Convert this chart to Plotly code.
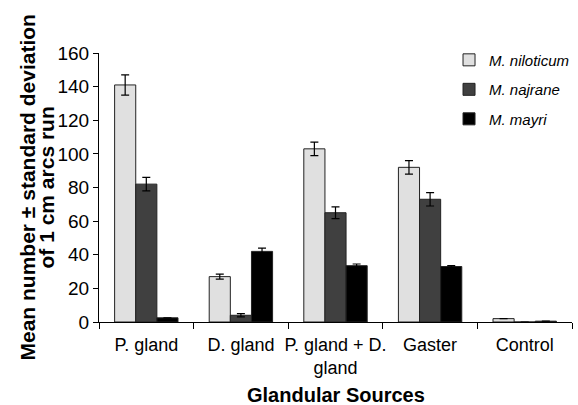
import plotly.graph_objects as go

categories = ["P. gland", "D. gland", "P. gland + D.<br>gland", "Gaster", "Control"]
series_names = ["M. niloticum", "M. najrane", "M. mayri"]
niloticum = [141, 27, 103, 92, 2]
niloticum_sd = [6, 1.5, 4, 4, 0]
najrane = [82, 4, 65, 73, 0]
najrane_sd = [4, 1, 3.5, 4, 0]
mayri = [2.5, 42, 33.5, 33, 0.5]
mayri_sd = [0, 2, 1, 0.5, 0]

colors = ["#e0e0e0", "#404040", "#000000"]
values = [niloticum, najrane, mayri]
sds = [niloticum_sd, najrane_sd, mayri_sd]

fig = go.Figure()
for i, (name, v, sd, c) in enumerate(zip(series_names, values, sds, colors)):
    fig.add_trace(go.Bar(
        x=categories, y=v, name="<i>" + name + "</i>", legendgroup="g%d" % i,
        marker=dict(color=c, line=dict(color="#222222", width=1)),
        error_y=dict(type="data", array=sd, visible=True, color="black", thickness=1.2, width=4),
    ))

FONT = "Liberation Sans, Arial, sans-serif"
fig.update_layout(
    width=578, height=405,
    margin=dict(l=99, r=6, t=53, b=83, autoexpand=False),
    paper_bgcolor="white", plot_bgcolor="white",
    barmode="group", bargap=0.33, bargroupgap=0,
    font=dict(family=FONT, color="black"),
    showlegend=True,
    legend=dict(
        x=0.74, y=1.035, xanchor="left", yanchor="top",
        font=dict(size=15, family=FONT),
        traceorder="grouped", tracegroupgap=7,
        itemwidth=30, bgcolor="rgba(0,0,0,0)",
    ),
)
fig.update_xaxes(
    showline=True, linecolor="black", linewidth=1,
    ticks="outside", tickson="boundaries", ticklen=6, tickcolor="black",
    tickfont=dict(size=18), tickangle=0, automargin=False, ticklabelstandoff=6,
)
fig.update_yaxes(
    range=[0, 160], dtick=20,
    showline=True, linecolor="black", linewidth=1,
    ticks="outside", ticklen=5, tickcolor="black",
    tickfont=dict(size=19), showgrid=False, zeroline=False, automargin=False,
)

fig.add_annotation(
    text="<b>Glandular Sources</b>", xref="paper", yref="paper",
    x=0.5, y=(322 - 395) / 269, xanchor="center", yanchor="middle",
    showarrow=False, font=dict(size=20, family=FONT),
)
fig.add_annotation(
    text="<b>Mean number ± standard deviation</b>", xref="paper", yref="paper",
    x=(27 - 99) / 473, y=0.5, xanchor="center", yanchor="middle", textangle=-90,
    showarrow=False, font=dict(size=21, family=FONT),
)
fig.add_annotation(
    text="<b>of 1 cm arcs run</b>", xref="paper", yref="paper",
    x=(46 - 99) / 473, y=0.5, xanchor="center", yanchor="middle", textangle=-90,
    showarrow=False, font=dict(size=21, family=FONT),
)

fig.write_html(
    "out.html",
    config={"displayModeBar": False},
    post_script="document.body.style.margin='0';document.body.style.overflow='hidden';",
)
